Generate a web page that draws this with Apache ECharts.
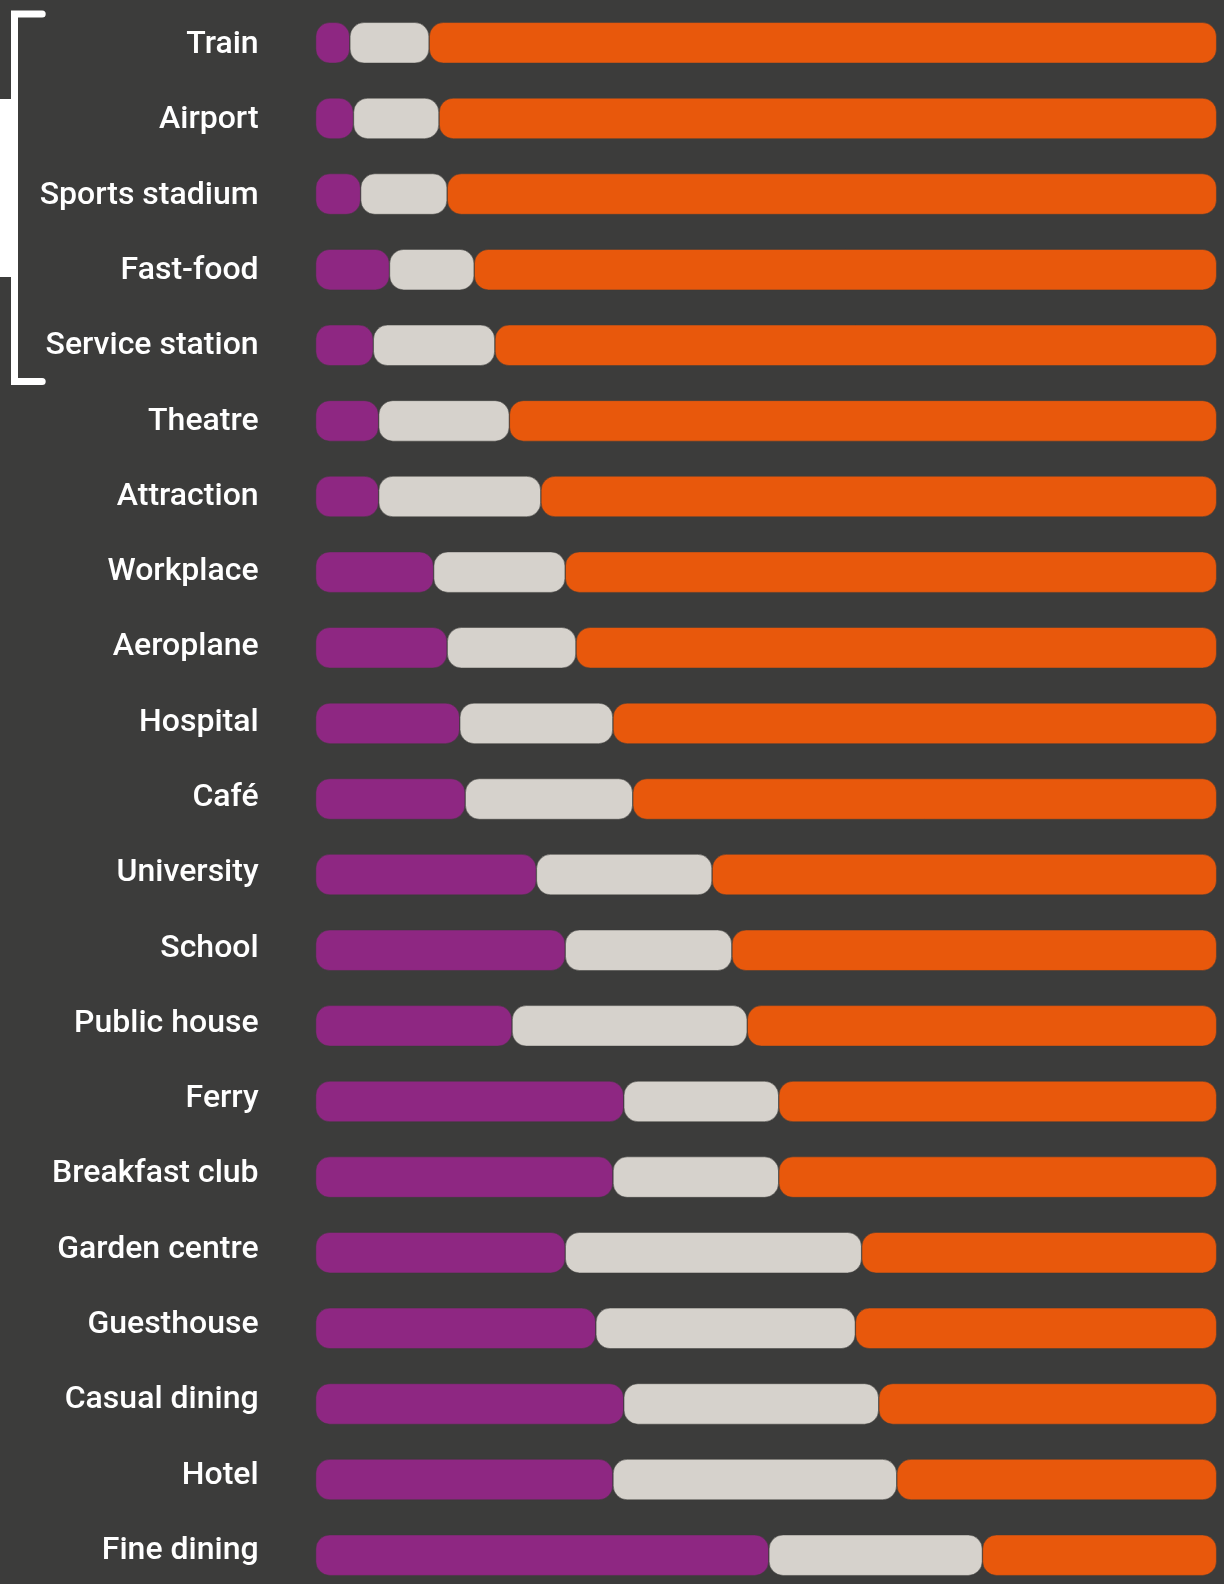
<!DOCTYPE html>
<html>
<head>
<meta charset="utf-8">
<style>
  html, body { margin: 0; padding: 0; background: #3c3c3b; }
  #chart { width: 1224px; height: 1584px; }
</style>
<script src="https://cdn.jsdelivr.net/npm/echarts@6/dist/echarts.min.js"></script>
</head>
<body>
<div id="chart"></div>
<script>
// Venue types, top to bottom
const venues = [
  'Train', 'Airport', 'Sports stadium', 'Fast-food', 'Service station',
  'Theatre', 'Attraction', 'Workplace', 'Aeroplane', 'Hospital', 'Café',
  'University', 'School', 'Public house', 'Ferry', 'Breakfast club',
  'Garden centre', 'Guesthouse', 'Casual dining', 'Hotel', 'Fine dining'
];

// Share of responses per venue (%), three stacked segments
const purpleShare = [3.8, 4.2, 5.0, 8.2, 6.4, 7.0, 7.0, 13.1, 14.6, 16.0, 16.6,
  24.5, 27.7, 21.8, 34.2, 33.0, 27.7, 31.1, 34.2, 33.0, 50.3];
const greyShare = [8.8, 9.5, 9.6, 9.4, 13.5, 14.5, 18.0, 14.6, 14.3, 17.0, 18.6,
  19.5, 18.5, 26.1, 17.2, 18.4, 32.9, 28.8, 28.3, 31.5, 23.7];
const orangeShare = [87.4, 86.3, 85.4, 82.4, 80.1, 78.5, 75.0, 72.3, 71.1, 67.0, 64.8,
  56.0, 53.8, 52.1, 48.6, 48.6, 39.4, 40.1, 37.5, 35.5, 26.0];

const BG = '#3c3c3b';
const chart = echarts.init(document.getElementById('chart'), null, { renderer: 'canvas' });

function segment(name, data, color) {
  return {
    name: name,
    type: 'bar',
    stack: 'total',
    data: data,
    barWidth: 41,
    silent: true,
    xAxisIndex: 0,
    yAxisIndex: 0,
    itemStyle: {
      color: color,
      borderRadius: 14,
      borderColor: BG,
      borderWidth: 0.5
    }
  };
}

chart.setOption({
  backgroundColor: BG,
  animation: false,
  grid: [
    // bars
    { left: 315.6, right: 7.3, top: 5, height: 1588, containLabel: false, outerBoundsMode: 'none' },
    // venue labels, laid out on a slightly tighter row pitch
    { left: 315.6, right: 7.3, top: 7.5, height: 1581, containLabel: false, outerBoundsMode: 'none' }
  ],
  xAxis: [
    { type: 'value', gridIndex: 0, min: 0, max: 100, show: false },
    { type: 'value', gridIndex: 1, min: 0, max: 100, show: false }
  ],
  yAxis: [
    {
      type: 'category',
      gridIndex: 0,
      data: venues,
      inverse: true,
      axisLine: { show: false },
      axisTick: { show: false },
      splitLine: { show: false },
      axisLabel: { show: false }
    },
    {
      type: 'category',
      gridIndex: 1,
      data: venues,
      inverse: true,
      axisLine: { show: false },
      axisTick: { show: false },
      splitLine: { show: false },
      axisLabel: {
        color: '#ffffff',
        fontFamily: 'Roboto',
        fontWeight: 500,
        fontSize: 32,
        margin: 57,
        align: 'right',
        padding: [4, 0, 0, 0]
      }
    }
  ],
  series: [
    segment('purple', purpleShare, '#8e2782'),
    segment('grey', greyShare, '#d6d2cc'),
    segment('orange', orangeShare, '#e8580c')
  ],
  graphic: [
    {
      type: 'rect',
      shape: { x: 0, y: 99, width: 13, height: 178 },
      style: { fill: '#ffffff' }
    },
    {
      type: 'polyline',
      shape: { points: [[42.2, 14], [14.5, 14], [14.5, 381.5], [42.2, 381.5]] },
      style: { stroke: '#ffffff', lineWidth: 7, lineCap: 'round', lineJoin: 'miter', fill: null }
    }
  ]
});
</script>
</body>
</html>
